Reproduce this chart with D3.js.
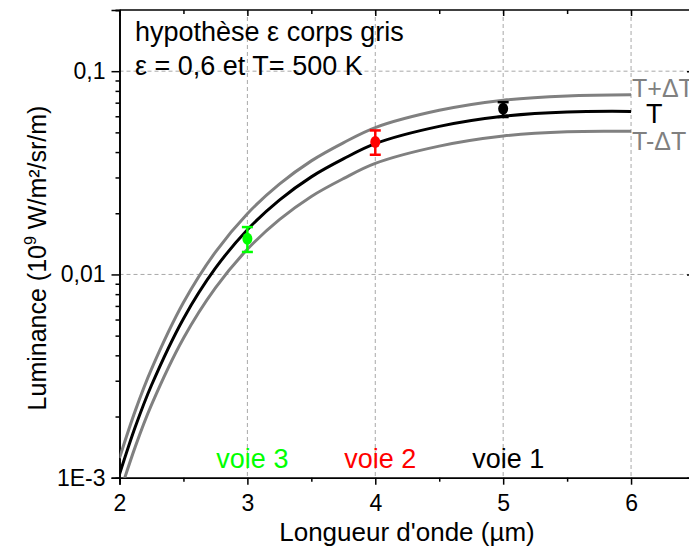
<!DOCTYPE html>
<html><head><meta charset="utf-8">
<script src="https://cdn.jsdelivr.net/npm/d3@7/dist/d3.min.js"></script>
<style>body{margin:0;background:#fff;} text{font-family:"Liberation Sans",Arial,sans-serif;}</style>
</head><body><svg id="c" width="689" height="550"></svg>
<script>
// wavelength (µm)
const lambda   = [2, 2.125, 2.25, 2.5, 2.75, 3, 3.25, 3.5, 3.75, 4, 4.5, 5, 5.5, 6];
// luminance (10^9 W/m²/sr/m)
const lumT      = [0.00104, 0.00179, 0.00285, 0.00606, 0.01073, 0.0166, 0.0232, 0.0302, 0.0370, 0.0440, 0.0535, 0.0600, 0.0630, 0.0634];
const lumTplus  = [0.00125, 0.00215, 0.00342, 0.00727, 0.01288, 0.0199, 0.0278, 0.0362, 0.0444, 0.0528, 0.0642, 0.0720, 0.0756, 0.0766];
const lumTminus = [0.00083, 0.00143, 0.00228, 0.00485, 0.00858, 0.0133, 0.0186, 0.0242, 0.0296, 0.0352, 0.0428, 0.0480, 0.0504, 0.0506];
// measurements
const ptX     = [3, 4, 5];
const ptY     = [0.0150, 0.0448, 0.0653];
const ptLow   = [0.0129, 0.0388, 0.0595];
const ptHigh  = [0.0171, 0.0511, 0.0704];
const ptColor = ["#00ff00", "#ff0000", "#000000"];
const ptLabel = ["voie 3", "voie 2", "voie 1"];
const xTicks = [2, 3, 4, 5, 6];
const yTicks = [0.001, 0.01, 0.1];
const yTickLabels = ["1E-3", "0,01", "0,1"];

(function () {
const svg = d3.select("#c");
const L = 119.5, R = 695, T = 10, B = 477.7;
const x = d3.scaleLinear().domain([2, 6.5]).range([L, R]);
const y = d3.scaleLog().domain([0.001, 0.2]).range([B, T]);

// grid
const grid = svg.append("g").attr("stroke", "#a8a8a8").attr("stroke-width", 1).attr("stroke-dasharray", "4,3");
[3,4,5,6].forEach(v => grid.append("line").attr("x1", x(v)).attr("x2", x(v)).attr("y1", T).attr("y2", B));
[0.01, 0.1].forEach(v => grid.append("line").attr("x1", L).attr("x2", R).attr("y1", y(v)).attr("y2", y(v)));

// minor ticks
const xMinor = d3.range(2.5, 6.6, 1);
const yMinor = [];
[0.001, 0.01, 0.1].forEach(d => { for (let k = 2; k <= 9; k++) { const v = d * k; if (v <= 0.2) yMinor.push(v); } });

// axes
const gBottom = svg.append("g").attr("transform", `translate(0,${B})`)
  .call(d3.axisBottom(x).tickValues(xTicks).tickFormat(d3.format("d")).tickSize(7).tickPadding(10));
const gBottomMinor = svg.append("g").attr("transform", `translate(0,${B})`)
  .call(d3.axisBottom(x).tickValues(xMinor).tickFormat("").tickSize(4));
const gTop = svg.append("g").attr("transform", `translate(0,${T})`)
  .call(d3.axisBottom(x).tickValues(xTicks).tickFormat("").tickSize(6));
const gTopMinor = svg.append("g").attr("transform", `translate(0,${T})`)
  .call(d3.axisBottom(x).tickValues(xMinor).tickFormat("").tickSize(4));
const gLeft = svg.append("g").attr("transform", `translate(${L},0)`)
  .call(d3.axisLeft(y).tickValues(yTicks).tickFormat((d,i) => yTickLabels[i]).tickSize(8).tickPadding(6));
const gLeftMinor = svg.append("g").attr("transform", `translate(${L},0)`)
  .call(d3.axisLeft(y).tickValues(yMinor).tickFormat("").tickSize(4));
const gRight = svg.append("g").attr("transform", `translate(${R},0)`)
  .call(d3.axisLeft(y).tickValues(yTicks).tickFormat("").tickSize(8));
const gRightMinor = svg.append("g").attr("transform", `translate(${R},0)`)
  .call(d3.axisLeft(y).tickValues(yMinor).tickFormat("").tickSize(4));
[gBottom,gBottomMinor,gTop,gTopMinor,gLeft,gLeftMinor,gRight,gRightMinor].forEach(g => {
  g.selectAll("path").attr("stroke", "#000").attr("stroke-width", 1.6);
  g.selectAll("line").attr("stroke", "#000").attr("stroke-width", 1.5);
  g.selectAll("text").attr("fill", "#000").style("font-size", "23px").style("font-family", "'Liberation Sans',Arial,sans-serif");
});
[gTop, gTopMinor, gRight, gRightMinor].forEach(g => g.select("path").remove());
svg.append("line").attr("x1", L).attr("x2", R).attr("y1", T).attr("y2", T).attr("stroke", "#000").attr("stroke-width", 1.6);
svg.append("line").attr("x1", R).attr("x2", R).attr("y1", T).attr("y2", B).attr("stroke", "#000").attr("stroke-width", 1.6);

// clip
svg.append("clipPath").attr("id", "clip").append("rect").attr("x", L).attr("y", T).attr("width", R - L).attr("height", B - T);

const line = vals => d3.line().x((d, i) => x(lambda[i])).y(d => y(d)).curve(d3.curveCatmullRom.alpha(0.5))(vals);
const curves = svg.append("g").attr("clip-path", "url(#clip)").attr("fill", "none").attr("stroke-width", 3);
curves.append("path").attr("d", line(lumTplus)).attr("stroke", "#808080");
curves.append("path").attr("d", line(lumTminus)).attr("stroke", "#808080");
curves.append("path").attr("d", line(lumT)).attr("stroke", "#000");

// points with error bars
ptX.forEach((v, i) => {
  const g = svg.append("g").attr("stroke", ptColor[i]).attr("fill", ptColor[i]).attr("stroke-width", 2.5);
  g.append("line").attr("x1", x(v)).attr("x2", x(v)).attr("y1", y(ptLow[i])).attr("y2", y(ptHigh[i]));
  g.append("line").attr("x1", x(v) - 5.5).attr("x2", x(v) + 5.5).attr("y1", y(ptLow[i])).attr("y2", y(ptLow[i]));
  g.append("line").attr("x1", x(v) - 5.5).attr("x2", x(v) + 5.5).attr("y1", y(ptHigh[i])).attr("y2", y(ptHigh[i]));
  g.append("ellipse").attr("cx", x(v)).attr("cy", y(ptY[i])).attr("rx", 5).attr("ry", 6).attr("stroke", "none");
  svg.append("text").attr("x", x(v) + 5).attr("y", 468).attr("text-anchor", "middle")
    .attr("fill", ptColor[i]).style("font-size", "27px").text(ptLabel[i]);
});

// curve labels
svg.append("text").attr("x", x(6) + 1).attr("y", y(lumTplus[13]) + 2).attr("fill", "#808080").style("font-size", "25px").text("T+ΔT");
svg.append("text").attr("x", x(6) + 15).attr("y", y(lumT[13]) + 12).attr("fill", "#000").style("font-size", "27px").text("T");
svg.append("text").attr("x", x(6) + 1).attr("y", y(lumTminus[13]) + 19).attr("fill", "#808080").style("font-size", "25px").text("T-ΔT");

// annotation
svg.append("text").attr("x", 135).attr("y", 41).style("font-size", "27px").text("hypothèse ε corps gris");
svg.append("text").attr("x", 135).attr("y", 75).style("font-size", "27px").text("ε = 0,6 et T= 500 K");

// axis titles
svg.append("text").attr("x", 407).attr("y", 541).attr("text-anchor", "middle").style("font-size", "26px").text("Longueur d'onde (µm)");
const yt = svg.append("text").attr("transform", "translate(46,258) rotate(-90)").attr("text-anchor", "middle").style("font-size", "25px");
yt.append("tspan").text("Luminance (10");
yt.append("tspan").attr("dy", -10).style("font-size", "16px").text("9");
yt.append("tspan").attr("dy", 10).text(" W/m²/sr/m)");
})();
</script></body></html>
